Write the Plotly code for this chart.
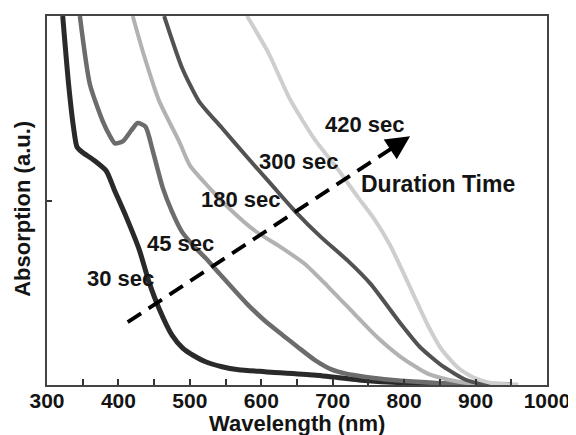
import plotly.graph_objects as go

# ---- data ----
wl_30 = [322, 330, 337, 342, 350, 365, 383, 394, 411, 429, 443, 457, 475, 490, 505, 522, 545, 568, 605, 674, 745, 800, 880, 950]
ab_30 = [2.0, 1.64, 1.40, 1.29, 1.26, 1.22, 1.16, 1.06, 0.91, 0.735, 0.556, 0.413, 0.27, 0.20, 0.16, 0.126, 0.099, 0.083, 0.072, 0.054, 0.025, 0.012, 0.005, 0.003]

wl_45 = [346, 360, 378, 388, 395, 406, 418, 427, 438, 448, 462, 475, 489, 505, 522, 540, 559, 580, 605, 630, 651, 675, 698, 720, 744, 780, 850, 920]
ab_45 = [2.0, 1.63, 1.43, 1.35, 1.31, 1.32, 1.38, 1.42, 1.40, 1.27, 1.07, 0.94, 0.83, 0.755, 0.688, 0.61, 0.528, 0.44, 0.348, 0.27, 0.206, 0.135, 0.085, 0.06, 0.045, 0.028, 0.01, 0.003]

wl_180 = [420, 434, 457, 485, 500, 527, 559, 591, 628, 661, 693, 730, 762, 795, 832, 864, 892, 930]
ab_180 = [2.0, 1.81, 1.54, 1.32, 1.19, 1.07, 0.943, 0.836, 0.745, 0.656, 0.535, 0.387, 0.26, 0.153, 0.063, 0.027, 0.009, 0.003]

wl_300 = [464, 489, 513, 545, 577, 614, 647, 684, 721, 753, 795, 822, 855, 887, 905, 940]
ab_300 = [2.0, 1.72, 1.536, 1.393, 1.249, 1.087, 0.943, 0.80, 0.674, 0.548, 0.333, 0.206, 0.099, 0.027, 0.009, 0.003]

wl_420 = [580, 610, 640, 674, 707, 735, 758, 780, 795, 813, 833, 852, 875, 897, 924, 960]
ab_420 = [2.0, 1.80, 1.55, 1.335, 1.17, 1.02, 0.90, 0.76, 0.64, 0.49, 0.325, 0.195, 0.095, 0.04, 0.009, 0.003]

labels = ["30 sec", "45 sec", "180 sec", "300 sec", "420 sec"]
label_x = [402.7, 487, 571.5, 653, 744.7]
label_y = [0.575, 0.768, 1.003, 1.213, 1.411]

arrow_text = "Duration Time"
arrow_text_xy = (848, 1.087)
arrow_start = (413, 0.341)
arrow_end = (808.3, 1.348)

x_tickvals = [300, 400, 500, 600, 700, 800, 900, 1000]
x_ticktext = ["300", "400", "500", "600", "700", "800", "900", "1000"]
x_title = "Wavelength (nm)"
y_title = "Absorption (a.u.)"

FONT = "Liberation Sans, Arial, sans-serif"
TXT = "#141414"

series = [
    (wl_30, ab_30, "#2a2a2a", 5),
    (wl_45, ab_45, "#6c6c6c", 4.5),
    (wl_180, ab_180, "#b2b2b2", 4),
    (wl_300, ab_300, "#525252", 4),
    (wl_420, ab_420, "#cecece", 4),
]

fig = go.Figure()
for (x, y, c, w), name in zip(series, labels):
    fig.add_trace(go.Scatter(x=x, y=y, mode="lines", name=name,
                             line=dict(color=c, width=w, shape="spline", smoothing=0.6),
                             showlegend=False))

for t, x, y in zip(labels, label_x, label_y):
    fig.add_annotation(x=x, y=y, text=t, showarrow=False,
                       font=dict(family=FONT, size=22, color=TXT, weight="bold"))

fig.add_annotation(x=arrow_text_xy[0], y=arrow_text_xy[1], text=arrow_text, showarrow=False,
                   font=dict(family=FONT, size=23, color=TXT, weight="bold"))

# dashed arrow body + head
dx = arrow_end[0] - arrow_start[0]
dy = arrow_end[1] - arrow_start[1]
fig.add_shape(type="line", x0=arrow_start[0], y0=arrow_start[1],
              x1=arrow_start[0] + dx * 0.955, y1=arrow_start[1] + dy * 0.955,
              line=dict(color="black", width=3.8, dash="16px,9px"))
fig.add_annotation(x=arrow_end[0], y=arrow_end[1],
                   ax=arrow_start[0] + dx * 0.95, ay=arrow_start[1] + dy * 0.95,
                   axref="x", ayref="y", xref="x", yref="y",
                   showarrow=True, arrowhead=2, arrowsize=1.25, arrowwidth=3.8,
                   arrowcolor="black", text="")

# axis titles as annotations for exact placement
fig.add_annotation(xref="paper", yref="paper", x=0.5, y=-0.104, yanchor="middle",
                   text=x_title, showarrow=False,
                   font=dict(family=FONT, size=22, color=TXT, weight="bold"))
fig.add_annotation(xref="paper", yref="paper", x=-0.0496, y=0.478, xanchor="center", yanchor="middle",
                   text=y_title, textangle=-90, showarrow=False,
                   font=dict(family=FONT, size=22, color=TXT, weight="bold"))

# the page body adds an 8px offset, so the figure is 8px smaller on each side
fig.update_layout(
    width=568, height=427,
    margin=dict(l=39, r=25, t=6, b=50),
    paper_bgcolor="white", plot_bgcolor="white",
    font=dict(family=FONT, color=TXT),
)
fig.update_xaxes(range=[300, 1000], tickvals=x_tickvals, ticktext=x_ticktext,
                 ticks="inside", ticklen=6, tickwidth=1.5, tickcolor="#333333",
                 minor=dict(dtick=50, tick0=300, ticks="inside", ticklen=6, tickwidth=1.5, tickcolor="#333333"),
                 showline=True, linecolor="#444444", linewidth=1.5, mirror=True,
                 showgrid=False, zeroline=False, ticklabelstandoff=-4,
                 tickfont=dict(family=FONT, size=21, color=TXT, weight="bold"))
fig.update_yaxes(range=[0, 2], tickvals=[0, 1], ticktext=["", ""],
                 ticks="inside", ticklen=5, tickwidth=1.5, tickcolor="#333333",
                 showline=True, linecolor="#444444", linewidth=1.5, mirror=True,
                 showgrid=False, zeroline=False)

fig.write_html("out.html")
